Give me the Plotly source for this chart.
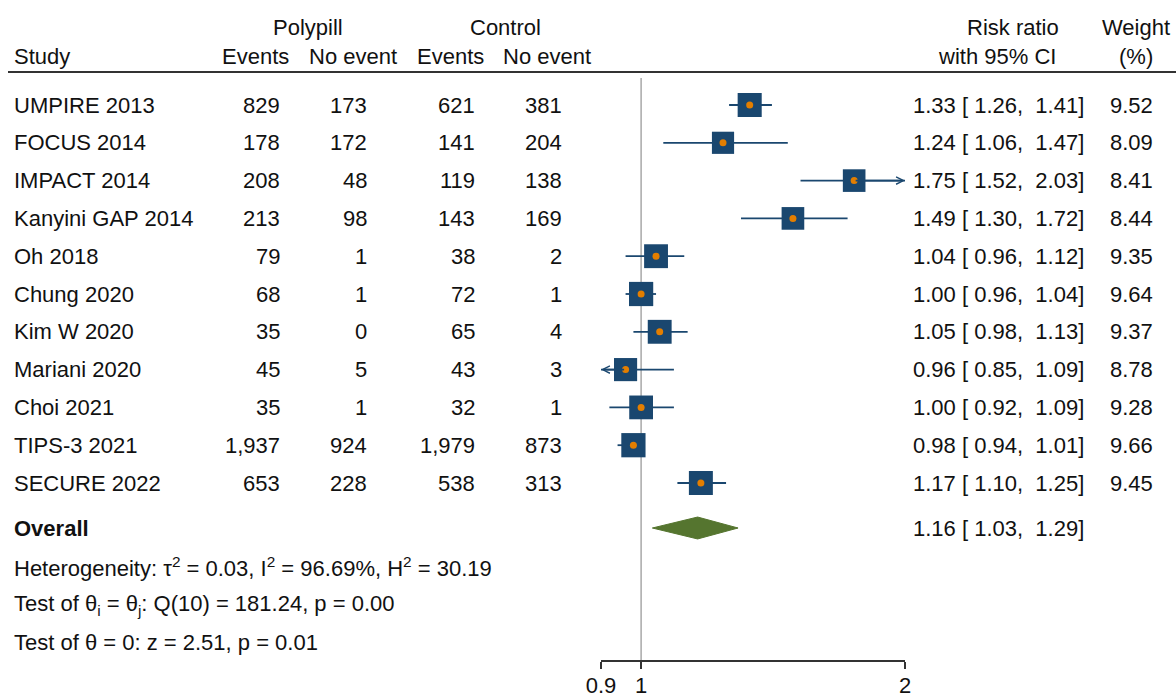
import math
import plotly.graph_objects as go

# ---------------- data ----------------
studies = ["UMPIRE 2013", "FOCUS 2014", "IMPACT 2014", "Kanyini GAP 2014", "Oh 2018",
           "Chung 2020", "Kim W 2020", "Mariani 2020", "Choi 2021", "TIPS-3 2021", "SECURE 2022"]
poly_events = [829, 178, 208, 213, 79, 68, 35, 45, 35, 1937, 653]
poly_noevent = [173, 172, 48, 98, 1, 1, 0, 5, 1, 924, 228]
ctrl_events = [621, 141, 119, 143, 38, 72, 65, 43, 32, 1979, 538]
ctrl_noevent = [381, 204, 138, 169, 2, 1, 4, 3, 1, 873, 313]
rr = [1.33, 1.24, 1.75, 1.49, 1.04, 1.00, 1.05, 0.96, 1.00, 0.98, 1.17]
ci_lo = [1.26, 1.06, 1.52, 1.30, 0.96, 0.96, 0.98, 0.85, 0.92, 0.94, 1.10]
ci_hi = [1.41, 1.47, 2.03, 1.72, 1.12, 1.04, 1.13, 1.09, 1.09, 1.01, 1.25]
weights = [9.52, 8.09, 8.41, 8.44, 9.35, 9.64, 9.37, 8.78, 9.28, 9.66, 9.45]
overall_rr, overall_lo, overall_hi = 1.16, 1.03, 1.29
x_ticks = [0.9, 1, 2]
x_ticktext = ["0.9", "1", "2"]
het_lines = [
    "Heterogeneity: τ<sup>2</sup> = 0.03, I<sup>2</sup> = 96.69%, H<sup>2</sup> = 30.19",
    "Test of θ<sub>i</sub> = θ<sub>j</sub>: Q(10) = 181.24, p = 0.00",
    "Test of θ = 0: z = 2.51, p = 0.01",
]

# ---------------- style / layout ----------------
W, H = 1176, 693
FONT = "Liberation Sans, Arial, sans-serif"
FS = 22
NAVY = "#1a476f"
ORANGE = "#e37e00"
GREEN = "#55752f"
TXT = "#111111"

ROW0_PX, ROW_PX = 105, 37.8          # pixel centre of first row, row pitch
PLOT_BOTTOM_PX = 660                  # where the x axis line sits
y_top = -ROW0_PX / ROW_PX
y_bot = (PLOT_BOTTOM_PX - ROW0_PX) / ROW_PX
X_LEFT_PX, X_RIGHT_PX = 601, 905
PADX = 2                              # annotation inner padding compensation


def prow(px):
    """pixel (from top) -> row units on the y axis"""
    return (px - ROW0_PX) / ROW_PX


def xp(px):
    return px / W


def yp(px):
    return 1 - px / H


n = len(studies)
rows = list(range(n))
xmin, xmax = x_ticks[0], x_ticks[-1]

fig = go.Figure()

# null line at RR = 1
fig.add_trace(go.Scatter(x=[1, 1], y=[prow(78), y_bot], mode="lines",
                         line=dict(color="#a8a8a8", width=1.5), hoverinfo="skip"))

# CI lines (clipped to axis range)
for i in rows:
    lo = max(ci_lo[i], xmin)
    hi = min(ci_hi[i], xmax)
    fig.add_trace(go.Scatter(x=[lo, hi], y=[i, i], mode="lines",
                             line=dict(color=NAVY, width=1.8), hoverinfo="skip"))

# weight squares
fig.add_trace(go.Scatter(x=rr, y=rows, mode="markers",
                         marker=dict(symbol="square", color=NAVY, opacity=1,
                                     size=[7.8 * math.sqrt(w) for w in weights],
                                     line=dict(width=0)),
                         hoverinfo="skip"))
# point estimate dots
fig.add_trace(go.Scatter(x=rr, y=rows, mode="markers",
                         marker=dict(symbol="circle", color=ORANGE, size=7, opacity=1,
                                     line=dict(width=0)),
                         hoverinfo="skip"))

# overall diamond
ov_row = prow(528)
dh = 0.29
fig.add_trace(go.Scatter(x=[overall_lo, overall_rr, overall_hi, overall_rr, overall_lo],
                         y=[ov_row, ov_row - dh, ov_row, ov_row + dh, ov_row],
                         mode="lines", fill="toself", fillcolor=GREEN,
                         line=dict(color=GREEN, width=1), hoverinfo="skip"))

ann = []
# arrows for truncated CIs
for i in rows:
    if ci_hi[i] > xmax:
        ann.append(dict(x=math.log10(xmax), y=i, ax=math.log10(rr[i]), ay=i,
                        xref="x", yref="y", axref="x", ayref="y", text="",
                        showarrow=True, arrowhead=5, arrowsize=0.8, arrowwidth=1.8,
                        arrowcolor=NAVY, standoff=0, startstandoff=0))
    if ci_lo[i] < xmin:
        ann.append(dict(x=math.log10(xmin), y=i, ax=math.log10(rr[i]), ay=i,
                        xref="x", yref="y", axref="x", ayref="y", text="",
                        showarrow=True, arrowhead=5, arrowsize=0.8, arrowwidth=1.8,
                        arrowcolor=NAVY, standoff=0, startstandoff=0))


def txt(text, x, y, anchor="left", yref="y", bold=False):
    t = f"<b>{text}</b>" if bold else text
    if anchor == "left":
        x -= PADX
    elif anchor == "right":
        x += PADX
    ann.append(dict(text=t, x=xp(x), y=y, xref="paper", yref=yref, xanchor=anchor,
                    yanchor="middle", showarrow=False,
                    font=dict(family=FONT, size=FS, color=TXT)))


def fmt_int(v):
    return f"{v:,}"


def fmt_ci(e, lo, hi):
    nb = "\u00a0"
    return f"{e:.2f}{nb}[{nb}{lo:.2f},{nb}{nb}{hi:.2f}]"


# headers
txt("Polypill", 308, yp(27), "center", "paper")
txt("Control", 505, yp(27), "center", "paper")
txt("Study", 14, yp(57), "left", "paper")
txt("Events", 255, yp(57), "center", "paper")
txt("No event", 353, yp(57), "center", "paper")
txt("Events", 450, yp(57), "center", "paper")
txt("No event", 547, yp(57), "center", "paper")
txt("Risk ratio", 1013, yp(27), "center", "paper")
txt("with 95% CI", 997, yp(57), "center", "paper")
txt("Weight", 1136, yp(27), "center", "paper")
txt("(%)", 1136, yp(57), "center", "paper")

for i in rows:
    txt(studies[i], 14, i)
    txt(fmt_int(poly_events[i]), 280, i, "right")
    txt(fmt_int(poly_noevent[i]), 367, i, "right")
    txt(fmt_int(ctrl_events[i]), 475, i, "right")
    txt(fmt_int(ctrl_noevent[i]), 562, i, "right")
    txt(fmt_ci(rr[i], ci_lo[i], ci_hi[i]), 913, i, "left")
    txt(f"{weights[i]:.2f}", 1153, i, "right")

txt("Overall", 14, ov_row, bold=True)
txt(fmt_ci(overall_rr, overall_lo, overall_hi), 913, ov_row, "left")
for k, line in enumerate(het_lines):
    txt(line, 14, prow(567 + 37.5 * k))

fig.update_layout(
    width=W, height=H,
    margin=dict(l=0, r=0, t=0, b=0),
    paper_bgcolor="white", plot_bgcolor="white",
    showlegend=False,
    font=dict(family=FONT, size=FS, color=TXT),
    annotations=ann,
    shapes=[dict(type="line", xref="paper", yref="y", x0=xp(8), x1=1,
                 y0=prow(72), y1=prow(72), line=dict(color="#333333", width=2))],
    xaxis=dict(type="log", domain=[xp(X_LEFT_PX), xp(X_RIGHT_PX)],
               range=[math.log10(xmin), math.log10(xmax)],
               showgrid=False, zeroline=False, showline=True,
               linecolor="#333333", linewidth=1.5,
               ticks="outside", ticklen=7, tickwidth=1.5, tickcolor="#333333",
               tickvals=x_ticks, ticktext=x_ticktext, ticklabelstandoff=-2,
               tickfont=dict(family=FONT, size=FS, color=TXT), automargin=False,
               fixedrange=True),
    yaxis=dict(domain=[1 - PLOT_BOTTOM_PX / H, 1], range=[y_bot, y_top], visible=False,
               automargin=False, fixedrange=True),
)

fig.write_html("out.html", config={"displayModeBar": False, "staticPlot": True},
               post_script="document.body.style.margin='0';document.body.style.overflow='hidden';")
